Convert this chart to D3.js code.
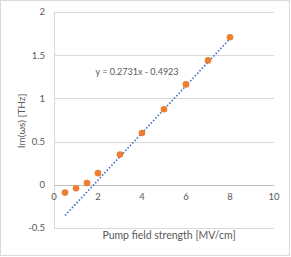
<!DOCTYPE html>
<html>
<head>
<meta charset="utf-8">
<script src="https://cdn.jsdelivr.net/npm/d3@7"></script>
<style>
  body { margin: 0; background: #fff; }
  svg { display: block; font-family: Lato, "Open Sans", sans-serif; }
</style>
</head>
<body>
<div id="chart"></div>
<script>
// Pump field strength [MV/cm]
const fieldStrength = [0.5, 1, 1.5, 2, 3, 4, 5, 6, 7, 8];
// Im(ωs) [THz]
const growthRate = [-0.09, -0.04, 0.02, 0.135, 0.35, 0.60, 0.875, 1.162, 1.44, 1.707];

// linear trendline shown on the chart
const trendSlope = 0.2731;
const trendIntercept = -0.4923;
const trendLabel = 'y = 0.2731x - 0.4923';

const xTicks = [0, 2, 4, 6, 8, 10];
const yTicks = [-0.5, 0, 0.5, 1, 1.5, 2];

const width = 291, height = 257;
const plot = { left: 54, right: 274, top: 12, bottom: 228 };

const svg = d3.select('#chart')
    .append('svg')
    .attr('width', width)
    .attr('height', height);

// chart border
svg.append('rect')
    .attr('x', 0.5).attr('y', 0.5)
    .attr('width', width - 2).attr('height', height - 2)
    .attr('fill', '#fff')
    .attr('stroke', '#d9d9d9');

const x = d3.scaleLinear().domain([0, 10]).range([plot.left, plot.right]);
const y = d3.scaleLinear().domain([-0.5, 2]).range([plot.bottom, plot.top]);

// horizontal gridlines
svg.append('g')
    .selectAll('line')
    .data(yTicks.filter(d => d !== 0))
    .join('line')
    .attr('x1', plot.left).attr('x2', plot.right)
    .attr('y1', d => Math.round(y(d)) + 0.5)
    .attr('y2', d => Math.round(y(d)) + 0.5)
    .attr('stroke', '#d9d9d9')
    .attr('stroke-width', 1);

// vertical axis line at x = 0
svg.append('line')
    .attr('x1', Math.round(x(0)) + 0.5).attr('x2', Math.round(x(0)) + 0.5)
    .attr('y1', plot.top).attr('y2', plot.bottom)
    .attr('stroke', '#d9d9d9');

// horizontal axis line at y = 0
svg.append('line')
    .attr('x1', plot.left).attr('x2', plot.right)
    .attr('y1', Math.round(y(0)) + 0.5).attr('y2', Math.round(y(0)) + 0.5)
    .attr('stroke', '#bfbfbf');

// y tick labels
svg.append('g')
    .selectAll('text')
    .data(yTicks)
    .join('text')
    .attr('x', 45)
    .attr('y', d => y(d))
    .attr('dy', '0.35em')
    .attr('text-anchor', 'end')
    .attr('font-size', 9.5)
    .attr('fill', '#595959')
    .text(d => d);

// x tick labels (sit just under the zero line)
svg.append('g')
    .selectAll('text')
    .data(xTicks)
    .join('text')
    .attr('x', d => x(d))
    .attr('y', y(0) + 15.5)
    .attr('text-anchor', 'middle')
    .attr('font-size', 9.5)
    .attr('fill', '#595959')
    .text(d => d);

// trendline over the data range
const xExtent = d3.extent(fieldStrength);
svg.append('line')
    .attr('x1', x(xExtent[0]))
    .attr('y1', y(trendSlope * xExtent[0] + trendIntercept))
    .attr('x2', x(xExtent[1]))
    .attr('y2', y(trendSlope * xExtent[1] + trendIntercept))
    .attr('stroke', '#4472c4')
    .attr('stroke-width', 1.6)
    .attr('stroke-dasharray', '1.6 1.8');

// data points
svg.append('g')
    .selectAll('circle')
    .data(fieldStrength.map((v, i) => [v, growthRate[i]]))
    .join('circle')
    .attr('cx', d => x(d[0]))
    .attr('cy', d => y(d[1]))
    .attr('r', 3.3)
    .attr('fill', '#ed7d31');

// trendline equation
svg.append('text')
    .attr('x', 137)
    .attr('y', 75)
    .attr('text-anchor', 'middle')
    .attr('font-size', 9)
    .attr('fill', '#595959')
    .text(trendLabel);

// axis titles
svg.append('text')
    .attr('x', 169)
    .attr('y', 239)
    .attr('text-anchor', 'middle')
    .attr('font-size', 10.5)
    .attr('fill', '#595959')
    .text('Pump field strength [MV/cm]');

svg.append('text')
    .attr('transform', 'translate(25,121) rotate(-90)')
    .attr('text-anchor', 'middle')
    .attr('font-size', 10)
    .attr('fill', '#595959')
    .text('Im(ωs) [THz]');
</script>
</body>
</html>
